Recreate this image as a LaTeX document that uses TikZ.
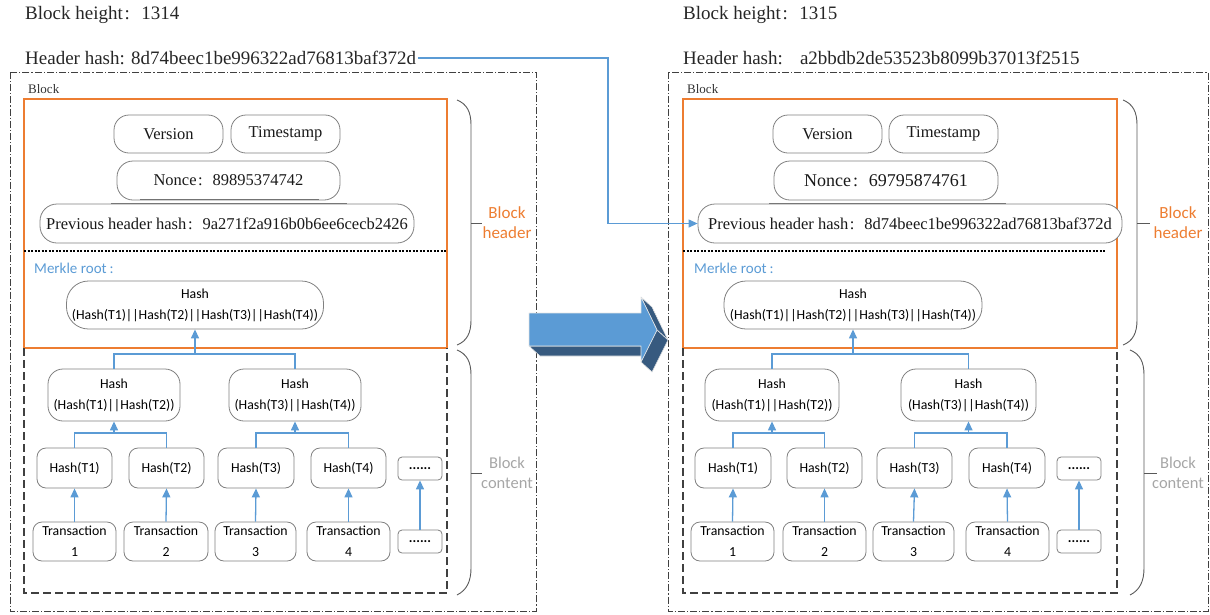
\documentclass[tikz,border=0pt]{standalone}
\usepackage{fontspec}
\setmainfont{Liberation Serif}
\setsansfont{Carlito}
\usetikzlibrary{arrows.meta}
\definecolor{orng}{HTML}{ED7D31}
\definecolor{lblue}{HTML}{5B9BD5}
\definecolor{dblue}{HTML}{375A7F}
\definecolor{nodeg}{HTML}{808080}
\definecolor{txtg}{HTML}{A6A6A6}
\definecolor{lineg}{HTML}{404040}
\newcommand\fwc{\kern0.1em:\kern0.6em}
\begin{document}
\begin{tikzpicture}[x=1pt,y=-1pt,
  ttl/.style={anchor=west,inner sep=0pt,text=black!85,font=\fontsize{19}{22}\selectfont},
  sbox/.style={draw=nodeg,line width=0.8pt,rounded corners=#1,inner sep=0pt,font=\fontsize{16.5}{19}\selectfont,text=black!90},
  fbox/.style={draw=nodeg,line width=0.8pt,rounded corners=#1,inner sep=0pt,align=center,font=\sffamily\fontsize{13.8}{21}\selectfont,text=black},
  wire/.style={draw=lblue,line width=1.3pt},
  arr/.style={-{Triangle[length=9pt,width=8pt]}},
  outerbox/.style={draw=lineg,line width=0.7pt,dash pattern=on 7pt off 2pt on 1.2pt off 2pt},
  contbox/.style={draw=lineg,line width=1.1pt,dash pattern=on 8pt off 4pt},
  headbox/.style={draw=orng,line width=1.1pt},
  sepline/.style={draw=black,line width=1.2pt,dash pattern=on 2pt off 1.5pt},
  bracket/.style={draw=black!65,line width=0.9pt},
  shade/.style={draw=black!55,line width=1.5pt},
  hdrlab/.style={align=center,text=orng,font=\sffamily\fontsize{17}{20}\selectfont,inner sep=0pt},
  cntlab/.style={align=center,text=txtg,font=\sffamily\fontsize{16.5}{20}\selectfont,inner sep=0pt},
  blk/.style={anchor=west,inner sep=0pt,text=black!80,font=\fontsize{13}{15}\selectfont},
  mrk/.style={anchor=west,inner sep=0pt,text=lblue,font=\sffamily\fontsize{15}{17}\selectfont}
]
\useasboundingbox (0,0) rectangle (1210,614);

% ================= LEFT BLOCK =================
\node[ttl] (bhL) at (25,15) {Block height\fwc 1314};
\node[ttl,inner xsep=2pt] (hhL) at (23,58) {Header hash: 8d74beec1be996322ad76813baf372d};
\draw[outerbox] (10,72) rectangle (536,611);
\node[blk] (blkL) at (28,89) {Block};
\draw[headbox] (24,99) rectangle (447,348);
\draw[contbox] (24,348) -- (24,593) -- (447,593) -- (447,348);
\draw[sepline] (24,251) -- (447,251);

\node[sbox=15pt,minimum width=109pt,minimum height=38pt] (vL) at (168.5,134) {Version};
\node[sbox=15pt,minimum width=109pt,minimum height=38pt] (tL) at (285.5,134) {Timestamp};
\node[sbox=16pt,minimum width=223pt,minimum height=39pt] (nL) at (228.5,180.5) {Nonce\fwc 89895374742};
\draw[shade] (140,199.5) -- (319,199.5);
\draw[shade] (111,204) -- (347,204);
\node[sbox=17pt,minimum width=374pt,minimum height=39pt,fill=white] (pL) at (227,223.5) {Previous header hash\fwc 9a271f2a916b0b6ee6cecb2426};
\node[mrk] (mL) at (34,268) {Merkle root\kern0.2em:};
\node[fbox=22pt,minimum width=257pt,minimum height=48pt] (rL) at (195,305) {Hash\\(Hash(T1)||Hash(T2)||Hash(T3)||Hash(T4))};

\node[fbox=15pt,minimum width=132pt,minimum height=52pt] (h12L) at (114,395) {Hash\\(Hash(T1)||Hash(T2))};
\node[fbox=15pt,minimum width=132pt,minimum height=52pt] (h34L) at (295,395) {Hash\\(Hash(T3)||Hash(T4))};

\node[fbox=9pt,minimum width=75pt,minimum height=40pt] (h1L) at (74.5,468) {Hash(T1)};
\node[fbox=9pt,minimum width=75pt,minimum height=40pt] (h2L) at (166.5,468) {Hash(T2)};
\node[fbox=9pt,minimum width=76pt,minimum height=40pt] (h3L) at (256,468) {Hash(T3)};
\node[fbox=9pt,minimum width=75pt,minimum height=40pt] (h4L) at (348.5,468) {Hash(T4)};
\node[fbox=4pt,minimum width=44pt,minimum height=23pt] (hdL) at (420,468.5) {\textbf{......}};

\node[fbox=9pt,minimum width=83pt,minimum height=39pt] (x1L) at (74.5,541.5) {Transaction\\1};
\node[fbox=9pt,minimum width=84pt,minimum height=39pt] (x2L) at (166,541.5) {Transaction\\2};
\node[fbox=9pt,minimum width=81pt,minimum height=39pt] (x3L) at (255.5,541.5) {Transaction\\3};
\node[fbox=9pt,minimum width=83pt,minimum height=39pt] (x4L) at (348.5,541.5) {Transaction\\4};
\node[fbox=4pt,minimum width=44pt,minimum height=23pt] (xdL) at (420,541.5) {\textbf{......}};

\foreach \a/\b in {x1L/h1L,x2L/h2L,x3L/h3L,x4L/h4L,xdL/hdL}
  \draw[wire,arr] (\a.north) -- (\b.south);
\coordinate (j12L) at (114,433);
\coordinate (j34L) at (295,433);
\coordinate (jrL) at (195,354);
\draw[wire] (h1L.north) |- (j12L) -| (h2L.north);
\draw[wire,arr] (j12L) -- (h12L.south);
\draw[wire] (h3L.north) |- (j34L) -| (h4L.north);
\draw[wire,arr] (j34L) -- (h34L.south);
\draw[wire] (h12L.north) |- (jrL) -| (h34L.north);
\draw[wire,arr] (jrL) -- (rL.south);

\draw[bracket] (457,100) .. controls (467,104) and (471,112) .. (471,125) -- (471,320) .. controls (471,333) and (467,341) .. (457,345);
\draw[bracket] (471,223) -- (482,223);
\node[hdrlab] (bhlabL) at (507,223) {Block\\header};
\draw[bracket] (457,350) .. controls (467,354) and (471,362) .. (471,375) -- (471,568) .. controls (471,581) and (467,590) .. (457,595);
\draw[bracket] (471,473) -- (482,473);
\node[cntlab] (bclabL) at (507,473) {Block\\content};

% ================= RIGHT BLOCK =================
\node[ttl] (bhR) at (683,15) {Block height\fwc 1315};
\node[ttl] (hhR) at (683,58) {Header hash:\kern0.9em a2bbdb2de53523b8099b37013f2515};
\draw[outerbox] (668,72) rectangle (1208,611);
\node[blk] (blkR) at (687,89) {Block};
\draw[headbox] (683,99) rectangle (1117,348);
\draw[contbox] (683,348) -- (683,593) -- (1117,593) -- (1117,348);
\draw[sepline] (683,251) -- (1106,251);

\node[sbox=15pt,minimum width=109pt,minimum height=38pt] (vR) at (827.5,134) {Version};
\node[sbox=15pt,minimum width=109pt,minimum height=38pt] (tR) at (943.5,134) {Timestamp};
\node[sbox=16pt,minimum width=224pt,minimum height=39pt,font=\fontsize{18}{20}\selectfont] (nR) at (886,180.5) {Nonce\fwc 69795874761};
\draw[shade] (769,204) -- (1006,204);
\node[sbox=17pt,minimum width=424pt,minimum height=39pt,fill=white] (pR) at (910,223.5) {Previous header hash\fwc 8d74beec1be996322ad76813baf372d};
\node[mrk] (mR) at (694,268) {Merkle root\kern0.2em:};
\node[fbox=22pt,minimum width=258pt,minimum height=48pt] (rR) at (853,305) {Hash\\(Hash(T1)||Hash(T2)||Hash(T3)||Hash(T4))};

\node[fbox=15pt,minimum width=134pt,minimum height=52pt] (h12R) at (772,395) {Hash\\(Hash(T1)||Hash(T2))};
\node[fbox=15pt,minimum width=135pt,minimum height=52pt] (h34R) at (968.5,395) {Hash\\(Hash(T3)||Hash(T4))};

\node[fbox=9pt,minimum width=76pt,minimum height=40pt] (h1R) at (733,468) {Hash(T1)};
\node[fbox=9pt,minimum width=75pt,minimum height=40pt] (h2R) at (824.5,468) {Hash(T2)};
\node[fbox=9pt,minimum width=75pt,minimum height=40pt] (h3R) at (914.5,468) {Hash(T3)};
\node[fbox=9pt,minimum width=76pt,minimum height=40pt] (h4R) at (1007,468) {Hash(T4)};
\node[fbox=4pt,minimum width=44pt,minimum height=23pt] (hdR) at (1079,468.5) {\textbf{......}};

\node[fbox=9pt,minimum width=83pt,minimum height=39pt] (x1R) at (732.5,541.5) {Transaction\\1};
\node[fbox=9pt,minimum width=83pt,minimum height=39pt] (x2R) at (824.5,541.5) {Transaction\\2};
\node[fbox=9pt,minimum width=81pt,minimum height=39pt] (x3R) at (913.5,541.5) {Transaction\\3};
\node[fbox=9pt,minimum width=83pt,minimum height=39pt] (x4R) at (1007.5,541.5) {Transaction\\4};
\node[fbox=4pt,minimum width=44pt,minimum height=23pt] (xdR) at (1079,541.5) {\textbf{......}};

\foreach \a/\b in {x1R/h1R,x2R/h2R,x3R/h3R,x4R/h4R,xdR/hdR}
  \draw[wire,arr] (\a.north) -- (\b.south);
\coordinate (j12R) at (772,433);
\coordinate (j34R) at (968.5,433);
\coordinate (jrR) at (853,354);
\draw[wire] (h1R.north) |- (j12R) -| (h2R.north);
\draw[wire,arr] (j12R) -- (h12R.south);
\draw[wire] (h3R.north) |- (j34R) -| (h4R.north);
\draw[wire,arr] (j34R) -- (h34R.south);
\draw[wire] (h12R.north) |- (jrR) -| (h34R.north);
\draw[wire,arr] (jrR) -- (rR.south);

\draw[bracket] (1123,100) .. controls (1133,104) and (1137,112) .. (1137,125) -- (1137,320) .. controls (1137,333) and (1133,341) .. (1123,345);
\draw[bracket] (1137,223) -- (1150,223);
\node[hdrlab] (bhlabR) at (1178,223) {Block\\header};
\draw[bracket] (1130,350) .. controls (1140,354) and (1144,362) .. (1144,375) -- (1144,568) .. controls (1144,581) and (1140,590) .. (1130,595);
\draw[bracket] (1144,473) -- (1157,473);
\node[cntlab] (bclabR) at (1178,473) {Block\\content};

% ================= LINK =================
\coordinate (turn) at (608,0);
\draw[wire,line width=1.2pt,arr] (hhL.east) -- (hhL.east -| turn) -- (turn |- pR.west) -- (pR.west);

% ================= BIG 3D ARROW =================
\begin{scope}[draw=white!80!gray,line width=0.6pt,line join=round]
\filldraw[fill=dblue] (529,346) -- (641,346) -- (652,356) -- (540,356) -- cycle;
\filldraw[fill=dblue] (641,297) -- (652,307) -- (668,340) -- (657,330) -- cycle;
\filldraw[fill=dblue] (657,330) -- (668,340) -- (652,372) -- (641,362) -- cycle;
\filldraw[fill=lblue] (529,313) -- (641,313) -- (641,297) -- (657,330) -- (641,362) -- (641,346) -- (529,346) -- cycle;
\end{scope}
\end{tikzpicture}
\end{document}
